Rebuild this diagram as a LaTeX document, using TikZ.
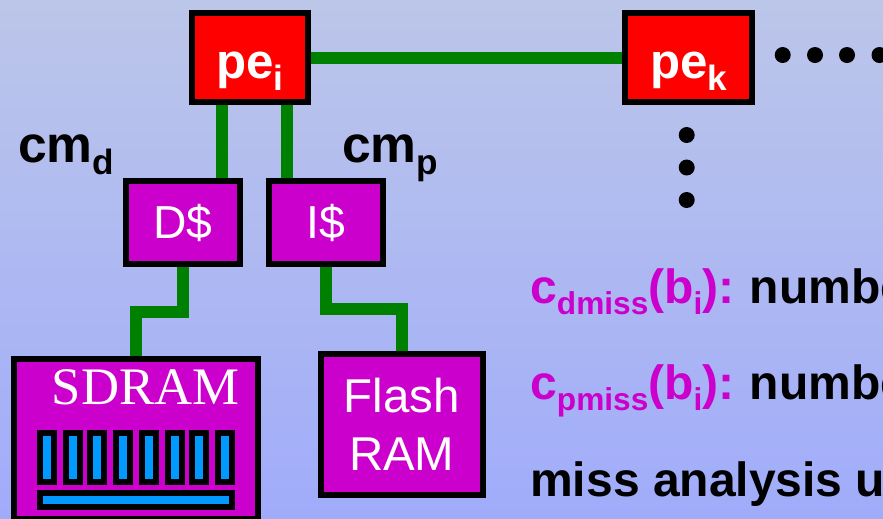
\documentclass[tikz,border=0pt]{standalone}
\usepackage{fontspec}
\setmainfont{Liberation Sans}
\newfontfamily\sdramfont{Liberation Serif}
\usetikzlibrary{calc}
\definecolor{cachepink}{HTML}{CC00CC}
\definecolor{linkgreen}{HTML}{008000}
\definecolor{chipblue}{HTML}{0099FF}
\definecolor{bgtop}{HTML}{BCC6E9}
\definecolor{bgbottom}{HTML}{A0ACFA}
\newcommand{\subtext}[1]{\raisebox{-10pt}{\fontsize{27}{27}\selectfont #1}}
\newcommand{\bigsub}[1]{\raisebox{-11pt}{\fontsize{30}{30}\selectfont #1}}
\begin{document}
\begin{tikzpicture}[
    x=0.03cm,
    y=-0.03cm,
    box/.style={
        rectangle,
        draw=black,
        line width=0.18cm,
        inner sep=0pt
    },
    pebox/.style={
        box,
        fill=red,
        text=white,
        minimum height=2.67cm,
        text height=35pt,
        text depth=0pt,
        font=\fontsize{42}{42}\selectfont\bfseries
    },
    membox/.style={
        box,
        fill=cachepink,
        text=white,
        font=\fontsize{39.5}{49.5}\selectfont
    },
    chipbox/.style={
        box,
        fill=chipblue,
        minimum width=0.42cm,
        minimum height=1.47cm
    },
    link/.style={draw=linkgreen,line width=0.36cm},
    dot/.style={circle,fill=black,inner sep=0pt,minimum size=0.48cm},
    boldtext/.style={anchor=base west,inner sep=0pt,font=\fontsize{41}{41}\selectfont\bfseries},
    cmtext/.style={anchor=base west,inner sep=0pt,font=\fontsize{44}{44}\selectfont\bfseries}
]

\useasboundingbox (0,0) rectangle (883,518);
\clip (0,0) rectangle (883,518);
\shade [top color=bgtop, bottom color=bgbottom] (0,0) rectangle (883,518);

\node (pei) [pebox, minimum width=3.48cm] at (250,57.5) {pe\bigsub{i}};
\node (pek) [pebox, minimum width=3.8cm] at (688.7,57.5) {pe\bigsub{k}};
\node (dcache) [membox, minimum width=3.42cm, minimum height=2.49cm] at (183,222.5) {D\$};
\node (icache) [membox, minimum width=3.42cm, minimum height=2.49cm] at (326,222.5) {I\$};
\node (sdram) [membox, minimum width=7.32cm, minimum height=4.8cm] at (136,439) {};
\node (flash) [membox, align=center, minimum width=4.87cm, minimum height=4.23cm, font=\fontsize{40.5}{49.5}\selectfont] at (401.8,424) {Flash\\RAM};

\node (sdramlabel) [anchor=base, inner sep=0pt, text=white, font=\fontsize{45}{45}\selectfont\sdramfont] at (145.5,404) {SDRAM};
\foreach \x [count=\n] in {47,72.7,97,122.7,149.3,175,199.3,224.7}
    \node (chip\n) [chipbox] at (\x,457.5) {};
\node (chipbar) [box, fill=chipblue, minimum width=5.76cm, minimum height=0.41cm] at (136,500) {};

\coordinate (dbend) at (183,311.5);
\coordinate (ibend) at (326,309);
\draw [link] (pei) -- (pek);
\draw [link] ($(pei.south)+(-28,0)$) -- ($(dcache.north)+(39,0)$);
\draw [link] ($(pei.south)+(37,0)$) -- ($(icache.north)+(-39,0)$);
\draw [link] (dcache.south) -- (dbend) -| (sdram.north);
\draw [link] (icache.south) -- (ibend) -| (flash.north);

\foreach \x [count=\n] in {782.7,815,847,879.5}
    \node (hdot\n) [dot] at (\x,55) {};
\foreach \y [count=\n] in {135,167.5,200}
    \node (vdot\n) [dot] at (686.7,\y) {};

\node (cmd) [cmtext] at (18,162) {cm\bigsub{d}};
\node (cmp) [cmtext] at (342,162) {cm\bigsub{p}};
\node (dmiss) [boldtext] at (530,303) {\textcolor{cachepink}{c\subtext{dmiss}(b\subtext{i}):}\kern-2pt{} numbe};
\node (pmiss) [boldtext] at (530,399) {\textcolor{cachepink}{c\subtext{pmiss}(b\subtext{i}):}\kern-2pt{} numbe};
\node (analysis) [boldtext] at (530,496) {miss analysis u};

\end{tikzpicture}
\end{document}
